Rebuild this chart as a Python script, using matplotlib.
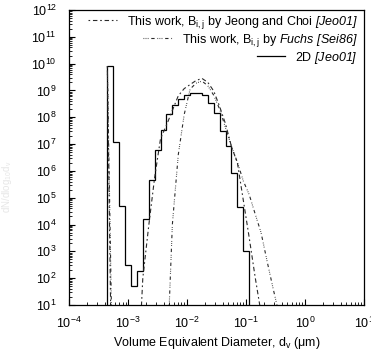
import matplotlib
matplotlib.use("Agg")
import matplotlib.pyplot as plt
import numpy as np

plt.rcParams['font.family'] = ['Liberation Sans', 'DejaVu Sans']
plt.rcParams['mathtext.fontset'] = 'custom'
plt.rcParams['mathtext.rm'] = 'Liberation Sans'
plt.rcParams['mathtext.it'] = 'Liberation Sans:italic'
plt.rcParams['mathtext.sf'] = 'Liberation Sans:italic'
plt.rcParams['mathtext.bf'] = 'Liberation Sans:bold'

# Section edges (volume-doubling sections), diameter in um
section_edges = [4.42e-4, 5.56e-4, 7.01e-4, 8.83e-4, 1.113e-3, 1.402e-3,
                 1.767e-3, 2.226e-3, 2.804e-3, 3.533e-3, 4.451e-3, 5.608e-3,
                 7.066e-3, 8.902e-3, 1.1216e-2, 1.4131e-2, 1.7804e-2, 2.2432e-2,
                 2.826e-2, 3.561e-2, 4.486e-2, 5.652e-2, 7.121e-2, 8.972e-2,
                 0.11304]

# 2D sectional solution [Jeo01], one value per section
dist_2d = [8e9, 1.2e7, 4.8e4, 3.2e2, 49, 1.9e2, 1.6e4, 4.6e5, 6e6, 3.4e7,
           1.3e8, 2.8e8, 4.7e8, 7e8, 8.3e8, 8.3e8, 6.5e8, 3.5e8, 1.5e8, 3e7,
           8.5e6, 8.5e5, 4.5e4, 1e3]

# This work, Jeong & Choi kernel: diameters and distribution
diam_jc = [4.42e-4, 5.56e-4, 7.01e-4, 8.83e-4, 1.113e-3, 1.402e-3,
           1.767e-3, 2.226e-3, 2.804e-3, 3.533e-3, 4.451e-3, 5.608e-3,
           7.066e-3, 8.902e-3, 1.1216e-2, 1.4131e-2, 1.7804e-2, 2.2432e-2,
           2.826e-2, 3.561e-2, 4.486e-2, 5.652e-2, 7.121e-2, 8.972e-2,
           0.11304, 0.1424, 0.1794, 0.2261]
dist_jc = [8e9, 1e-6, 1e-5, 1e-4, 5e-4, 3e-3,
           1e2, 8.9e3, 5.6e5, 1.6e7, 5e7, 1.8e8,
           6.3e8, 1.17e9, 1.66e9, 2.34e9, 2.82e9, 2.0e9,
           9.5e8, 2.5e8, 5.6e7, 8e6, 2e6, 8e4,
           3.2e3, 1.1e2, 5, 1e-1]

# This work, Fuchs kernel: diameters and distribution
diam_fu = [4.42e-4, 5.56e-4, 7.01e-4, 8.83e-4, 1.113e-3, 1.402e-3,
           1.767e-3, 2.226e-3, 2.804e-3, 3.533e-3, 4.451e-3, 5.608e-3,
           7.066e-3, 8.902e-3, 1.1216e-2, 1.4131e-2, 1.7804e-2, 2.2432e-2,
           2.826e-2, 3.561e-2, 4.486e-2, 5.652e-2, 7.121e-2, 8.972e-2,
           0.11304, 0.1424, 0.1794, 0.2261, 0.2848, 0.3589, 0.4522]
dist_fu = [8e9, 1e-3, 5e-4, 5e-4, 5e-4, 6e-4,
           8e-4, 1e-3, 2e-3, 5e-3, 2e-2, 1e4,
           4e6, 1.26e8, 1.12e9, 1.86e9, 2.24e9, 1.5e9,
           6.6e8, 2e8, 4e7, 8e6, 2.1e6, 4.2e5,
           1.3e5, 2.5e4, 5e3, 4.5e2, 4.5e1, 5, 3e-1]

x_ticks = [1e-4, 1e-3, 1e-2, 1e-1, 1e0, 1e1]

fig = plt.figure(figsize=(3.71, 3.56), dpi=100)
ax = fig.add_axes([0.1868, 0.1433, 0.7942, 0.8286])

line_color = '#2a2a2a'
l_jc, = ax.plot(diam_jc, dist_jc, color=line_color, lw=0.8,
                linestyle=(0, (1.5, 2.5, 4.0, 2.5)))
l_fu, = ax.plot(diam_fu, dist_fu, color=line_color, lw=0.8,
                linestyle=(0, (0.7, 1.2, 0.7, 1.2, 0.7, 2.5, 3.0, 2.5)))
ax.stairs(dist_2d, section_edges, baseline=1e-3, color='black', lw=0.9)
l_2d = plt.Line2D([], [], color='black', lw=0.9)

ax.set_xscale('log')
ax.set_yscale('log')
ax.set_xlim(1e-4, 1e1)
ax.set_ylim(1e1, 1e12)
ax.set_xticks(x_ticks)
ax.yaxis.set_major_locator(matplotlib.ticker.LogLocator(base=10, numticks=20))
ax.yaxis.set_minor_locator(matplotlib.ticker.LogLocator(base=10, subs=np.arange(2, 10), numticks=20))
ax.xaxis.set_minor_locator(matplotlib.ticker.LogLocator(base=10, subs=np.arange(2, 10), numticks=20))
ax.yaxis.set_minor_formatter(matplotlib.ticker.NullFormatter())
ax.xaxis.set_minor_formatter(matplotlib.ticker.NullFormatter())

ax.tick_params(which='major', direction='in', length=4, width=0.8, labelsize=9,
               top=False, right=False)
ax.tick_params(axis='y', which='major', pad=9)
ax.tick_params(axis='x', which='major', pad=8)
ax.tick_params(which='minor', direction='in', length=2, width=0.6,
               top=False, right=False)
for s in ax.spines.values():
    s.set_linewidth(0.9)

ax.set_xlabel('Volume Equivalent Diameter, d$_\\mathregular{v}$ (\u03bcm)',
              fontsize=9, labelpad=3)

fig.text(0.019, 0.475, 'dN/dlog$_\\mathregular{10}$d$_\\mathregular{v}$',
         rotation=90, ha='center', va='center', fontsize=7, color='#e6e6e6')

# One right-aligned legend row per series
rows = [
    (l_jc, 'This work, B$_\\mathregular{i,j}$ by Jeong and Choi $\\mathsf{[Jeo01]}$', 0.988),
    (l_fu, 'This work, B$_\\mathregular{i,j}$ by $\\mathsf{Fuchs}$ $\\mathsf{[Sei86]}$', 0.927),
    (l_2d, '2D $\\mathsf{[Jeo01]}$', 0.866),
]
for handle, text, ytop in rows:
    leg = matplotlib.legend.Legend(ax, [handle], [text], loc='upper right',
                                   bbox_to_anchor=(0.98, ytop),
                                   bbox_transform=ax.transAxes, frameon=False,
                                   fontsize=9, borderpad=0, borderaxespad=0,
                                   handlelength=2.3, handletextpad=0.8)
    ax.add_artist(leg)

fig.savefig('out.png', dpi=100)
